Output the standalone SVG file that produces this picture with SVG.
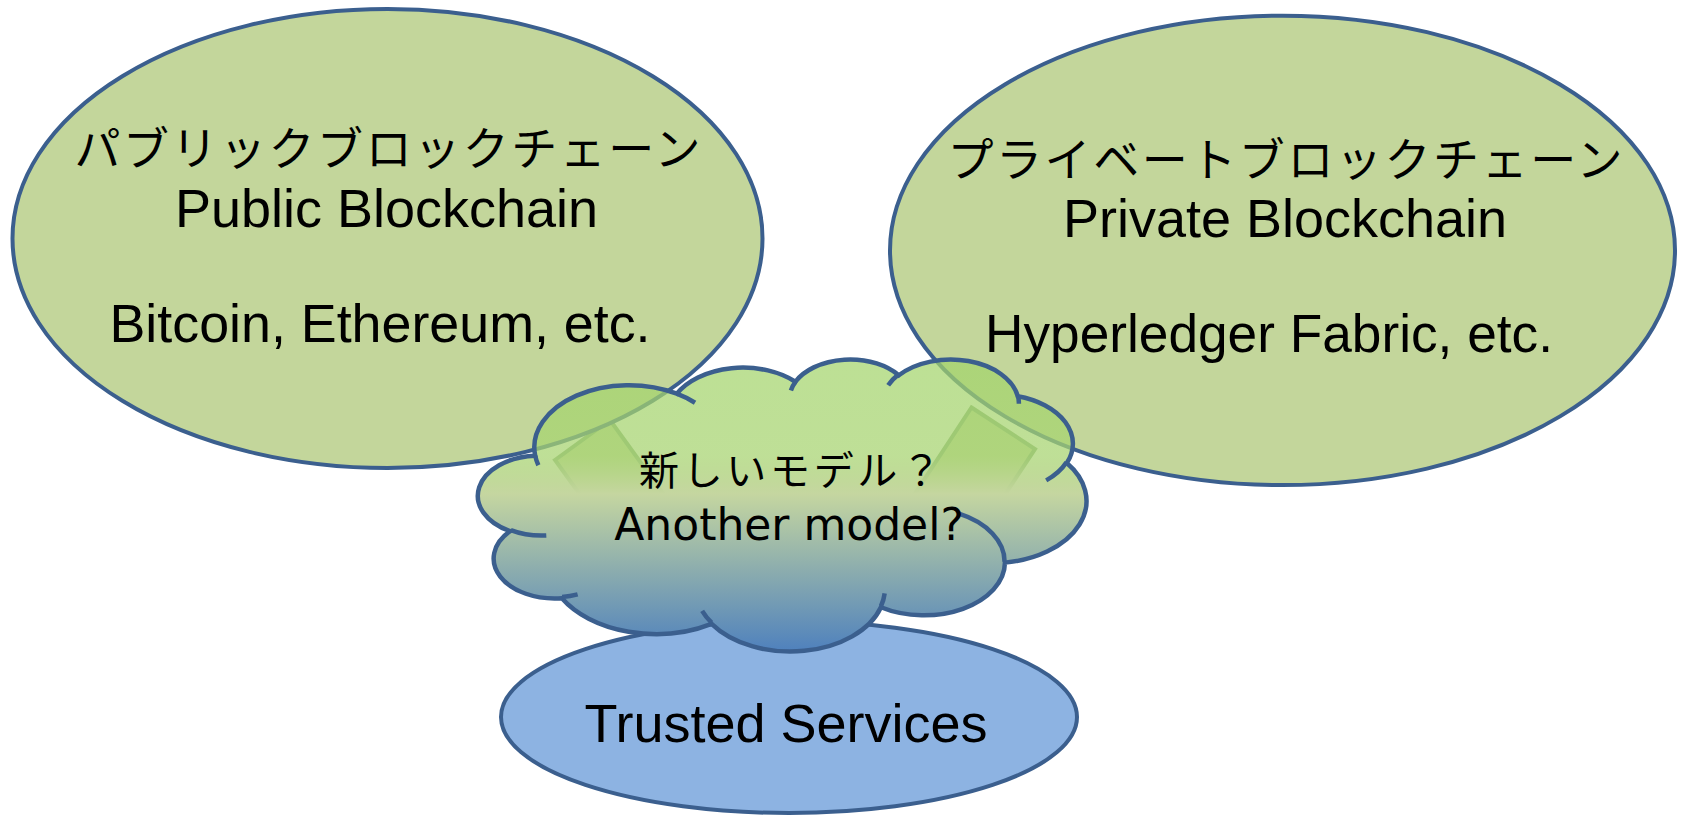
<svg xmlns="http://www.w3.org/2000/svg" width="1682" height="817" viewBox="0 0 1682 817">
<style>
.bc { fill:#c3d69b; stroke:#3b5f8e; stroke-width:4; }
.ts { fill:#8db3e2; stroke:#3b5f8e; stroke-width:4; }
.bar { fill:#c3d69b; stroke:#86ab7c; stroke-width:4; }
.cloud { fill:url(#cloudFill); stroke:#3b5f8e; stroke-width:4.5; vector-effect:non-scaling-stroke; }
.cloudin { fill:none; stroke:#3b5f8e; stroke-width:4.5; vector-effect:non-scaling-stroke; }
.lat { font-family:"Liberation Sans", Arial, sans-serif; font-size:54px; fill:#000; }
.jp { font-family:"Noto Sans CJK JP", sans-serif; font-size:46px; fill:#000; }
.cl { font-family:"DejaVu Sans", sans-serif; font-size:44px; fill:#000; }
.cljp { font-family:"Noto Sans CJK JP", sans-serif; font-size:40px; fill:#000; }
</style>
<defs>
<linearGradient id="cloudFill" x1="0" y1="0" x2="0" y2="1">
<stop offset="0" stop-color="#a3d46b" stop-opacity="0.72"/>
<stop offset="0.33" stop-color="#a8d472" stop-opacity="0.74"/>
<stop offset="0.46" stop-color="#c5d6a0" stop-opacity="1"/>
<stop offset="1" stop-color="#4f81bd" stop-opacity="1"/>
</linearGradient>
</defs>
<rect width="1682" height="817" fill="#ffffff"/>
<g id="connectors">
<polygon class="bar" points="555,460 610,420 680,517 625,557"/>
<polygon class="bar" points="971.5,407.5 1035,449 969,549 905.6,507.8"/>
</g>
<g id="public-blockchain">
<ellipse class="bc" cx="387.5" cy="238.5" rx="375" ry="229.5"/>
<text class="jp" x="387.5" y="165" text-anchor="middle" textLength="626" lengthAdjust="spacing">パブリックブロックチェーン</text>
<text class="lat" x="386.5" y="227" text-anchor="middle">Public Blockchain</text>
<text class="lat" x="380" y="341.5" text-anchor="middle" textLength="541" lengthAdjust="spacingAndGlyphs">Bitcoin, Ethereum, etc.</text>
</g>
<g id="private-blockchain">
<ellipse class="bc" cx="1282.5" cy="250.4" rx="392.5" ry="234.7"/>
<text class="jp" x="1285" y="175.5" text-anchor="middle" textLength="675" lengthAdjust="spacing">プライベートブロックチェーン</text>
<text class="lat" x="1285" y="237" text-anchor="middle">Private Blockchain</text>
<text class="lat" x="1269" y="352" text-anchor="middle" textLength="568" lengthAdjust="spacingAndGlyphs">Hyperledger Fabric, etc.</text>
</g>
<g id="trusted-services">
<ellipse class="ts" cx="789" cy="717" rx="288" ry="96"/>
<text class="lat" x="786" y="742" text-anchor="middle">Trusted Services</text>
</g>
<g id="another-model">
<g transform="translate(480.5,358.55) scale(0.01402,0.006757)">
<path class="cloud" d="M3900,14370 A6753,9190 0 0 1 14005,5202 A5333,7267 0 0 1 22459,3432 A4365,5945 0 0 1 29836,2480 A4857,6595 0 0 1 38321,5575 A5333,7273 0 0 1 41822,15459 A6775,9220 0 0 1 37407,30202 A5785,7867 0 0 1 28559,36812 A6752,9215 0 0 1 16484,39266 A7720,10543 0 0 1 5807,35473 A4360,5918 0 0 1 2114,25554 A4345,5945 0 0 1 3900,14370 Z"/>
<path class="cloudin" d="M4693,26177 A4345,5945 0 0 1 2160,25380 M6928,34899 A4360,5918 0 0 1 5819,35281 M16478,39090 A6752,9215 0 0 1 15809,37348 M28827,34751 A6752,9215 0 0 1 28561,36660 M34129,22954 A5785,7867 0 0 1 37380,30089 M41798,15354 A5333,7273 0 0 1 40349,18031 M38324,5426 A4857,6595 0 0 1 38400,6690 M29078,3952 A4857,6595 0 0 1 29820,2339 M22141,4720 A4365,5945 0 0 1 22500,3331 M14000,5192 A6753,9190 0 0 1 15302,6543 M4127,15789 A6753,9190 0 0 1 3900,14371"/>
</g>
<text class="cljp" x="790" y="485" text-anchor="middle" textLength="302" lengthAdjust="spacing">新しいモデル？</text>
<text class="cl" x="789" y="540" text-anchor="middle">Another model?</text>
</g>
</svg>
